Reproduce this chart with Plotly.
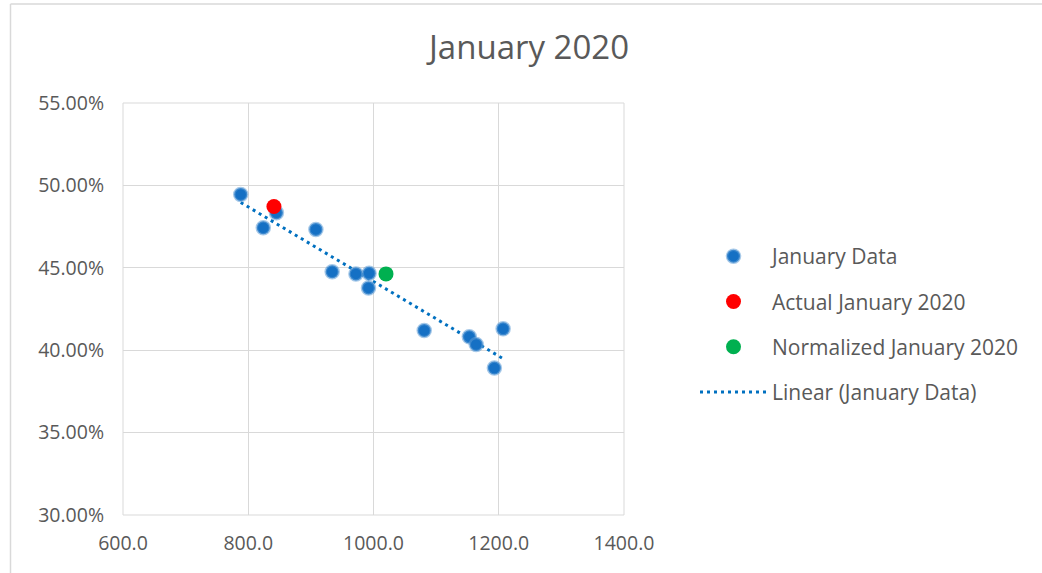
import numpy as np
import plotly.graph_objects as go

# January observations: monthly volume vs. rate
jan_x = [788, 824, 845, 908, 934, 972, 992, 993, 1081, 1153, 1164, 1193, 1207]
jan_y = [0.4945, 0.4743, 0.4834, 0.4733, 0.4476, 0.4463, 0.4378, 0.4467,
         0.4120, 0.4081, 0.4035, 0.3892, 0.4130]

actual_x = [841]
actual_y = [0.4872]

normalized_x = [1020]
normalized_y = [0.4463]

x_ticks = [600, 800, 1000, 1200, 1400]
y_ticks = [0.30, 0.35, 0.40, 0.45, 0.50, 0.55]

# least-squares trend over the January data
slope, intercept = np.polyfit(jan_x, jan_y, 1)
trend_x = [min(jan_x), max(jan_x)]
trend_y = [slope * v + intercept for v in trend_x]

FONT = "Open Sans"
GREY = "#595959"
GRID = "#D9D9D9"

fig = go.Figure()
fig.add_trace(go.Scatter(
    x=jan_x, y=jan_y, mode="markers", name="January Data",
    legendgroup="a", zorder=2,
    marker=dict(size=13, color="#1570C4",
                line=dict(color="rgba(91,155,213,0.55)", width=2.5)),
))
fig.add_trace(go.Scatter(
    x=actual_x, y=actual_y, mode="markers", name="Actual January 2020",
    legendgroup="b", zorder=3,
    marker=dict(size=15, color="#FF0000"),
))
fig.add_trace(go.Scatter(
    x=normalized_x, y=normalized_y, mode="markers", name="Normalized January 2020",
    legendgroup="c", zorder=3,
    marker=dict(size=15, color="#00B050"),
))
fig.add_trace(go.Scatter(
    x=trend_x, y=trend_y, mode="lines", name="Linear (January Data)",
    legendgroup="d", zorder=1,
    line=dict(color="#0070C0", width=3, dash="3px,4px"),
))

L, R, T, B = 123, 418, 103, 58
pw, ph = 1042 - L - R, 573 - T - B

def px_x(p):
    return (p - L) / pw

def px_y(p):
    return (573 - B - p) / ph

fig.update_layout(
    width=1042, height=573,
    margin=dict(l=L, r=R, t=T, b=B),
    paper_bgcolor="white", plot_bgcolor="white",
    font=dict(family=FONT, color=GREY),
    title=dict(text="January 2020", x=529 / 1042, xanchor="center",
               y=1 - 47 / 573, yanchor="middle", yref="container",
               font=dict(size=33, color=GREY, family=FONT)),
    xaxis=dict(range=[600, 1400], tickvals=x_ticks, tickformat=".1f",
               showgrid=True, gridcolor=GRID, gridwidth=1,
               showline=False, zeroline=False, ticks="",
               ticklabelstandoff=14,
               tickfont=dict(size=19.5, color=GREY, family=FONT)),
    yaxis=dict(range=[0.30, 0.55], tickvals=y_ticks, tickformat=".2%",
               showgrid=True, gridcolor=GRID, gridwidth=1,
               showline=False, zeroline=False, ticks="",
               ticklabelstandoff=18,
               tickfont=dict(size=19.5, color=GREY, family=FONT)),
    legend=dict(x=px_x(695), xanchor="left", y=px_y(236), yanchor="top",
                traceorder="grouped", tracegroupgap=15, itemwidth=67,
                font=dict(size=21, color=GREY, family=FONT),
                bgcolor="rgba(0,0,0,0)"),
    showlegend=True,
)

# plot-area frame
fig.add_shape(type="rect", xref="paper", yref="paper", x0=0, x1=1, y0=0, y1=1,
              line=dict(color=GRID, width=1), fillcolor="rgba(0,0,0,0)", layer="below")

# outer chart border (left and top edges visible)
fig.add_shape(type="line", xref="paper", yref="paper",
              x0=px_x(10.5), x1=px_x(10.5), y0=px_y(4), y1=px_y(600),
              line=dict(color="#D9D9D9", width=1.5))
fig.add_shape(type="line", xref="paper", yref="paper",
              x0=px_x(10.5), x1=px_x(1100), y0=px_y(4), y1=px_y(4),
              line=dict(color="#D9D9D9", width=1.5))

fig.write_html("out.html")
